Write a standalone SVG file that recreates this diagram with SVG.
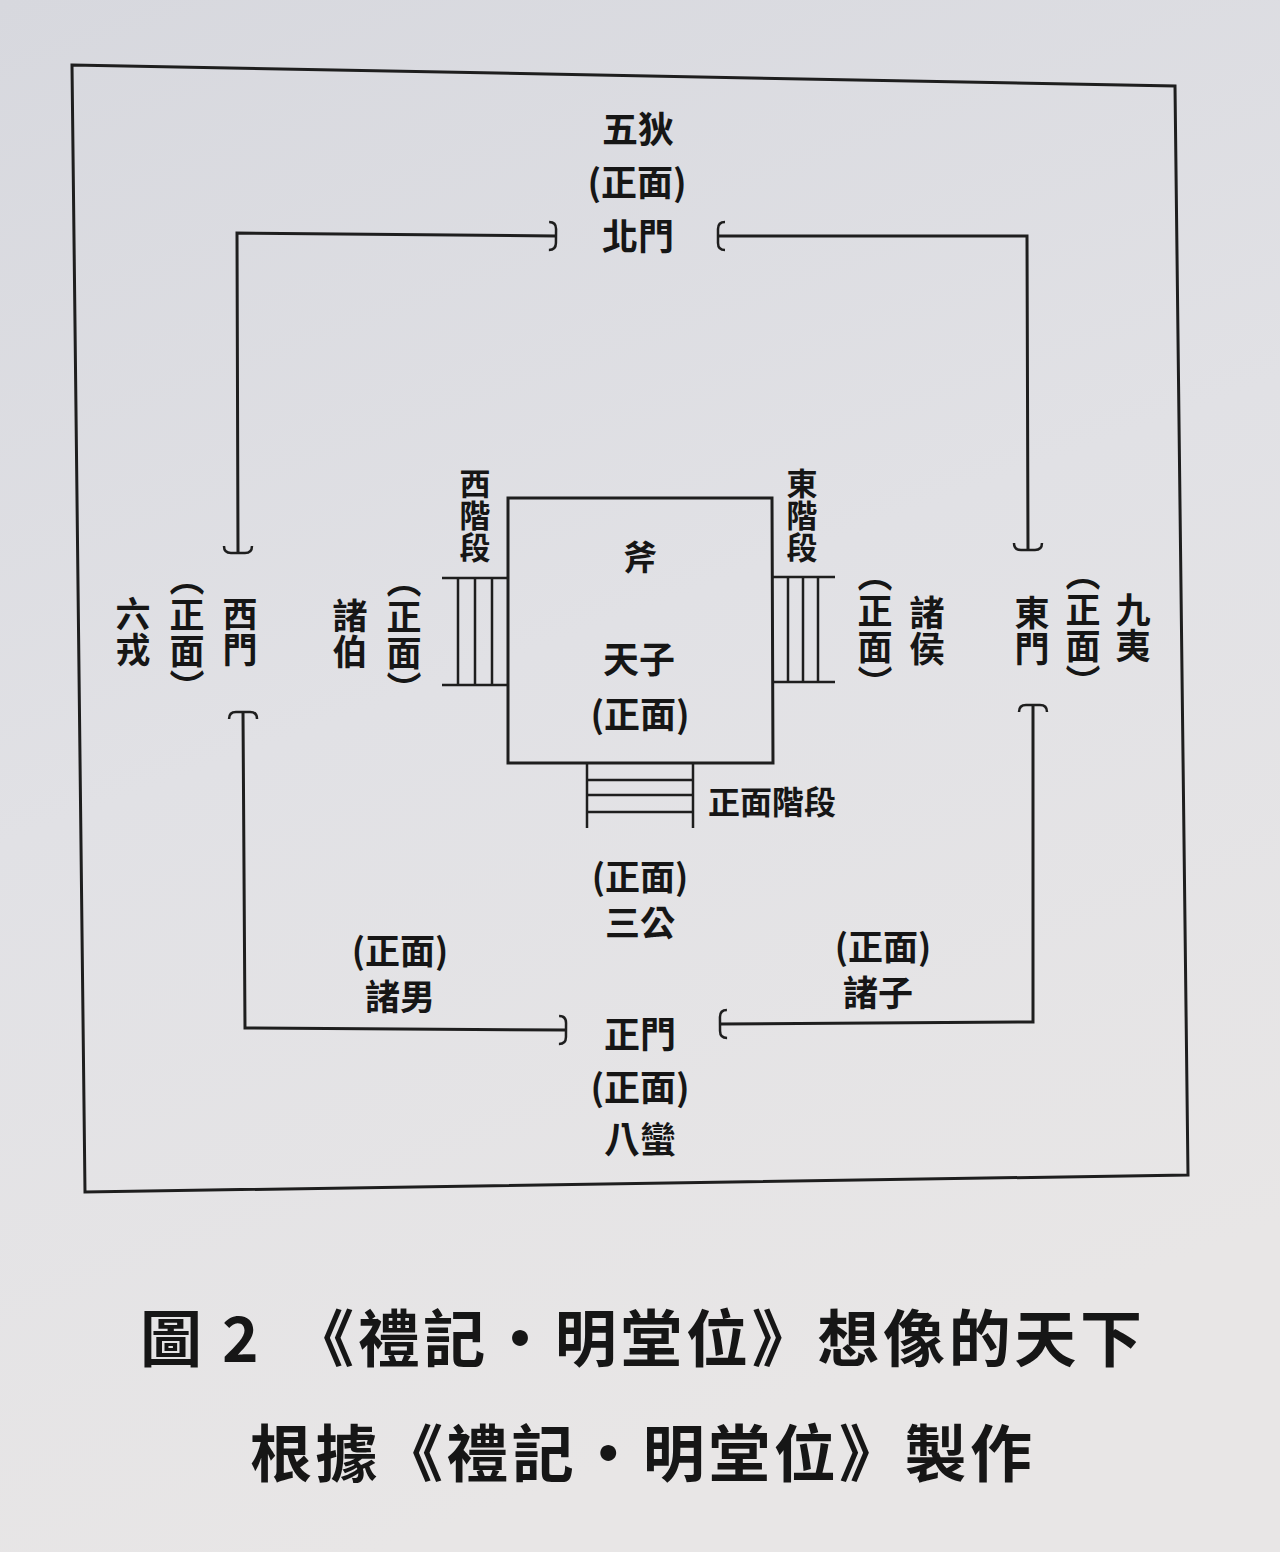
<svg xmlns="http://www.w3.org/2000/svg" width="1280" height="1552" viewBox="0 0 1280 1552">
<defs>
<linearGradient id="bg" x1="0" y1="0" x2="0.3" y2="1">
<stop offset="0" stop-color="#d7d8de"/>
<stop offset="0.5" stop-color="#e1e1e5"/>
<stop offset="1" stop-color="#e8e6e6"/>
</linearGradient>
<marker id="br" viewBox="-10 -16 14 32" refX="0" refY="0" markerWidth="14" markerHeight="32" markerUnits="userSpaceOnUse" orient="auto-start-reverse">
<path d="M -7 -14 Q 0 -14 0 -7 L 0 7 Q 0 14 -7 14" fill="none" stroke="#1e1e1e" stroke-width="2.5"/>
</marker>
<style>
.t{font-family:"Noto Sans CJK TC","Noto Sans CJK JP",sans-serif;font-weight:700;fill:#161616;text-anchor:middle;dominant-baseline:central;font-size:36px}
.v{writing-mode:vertical-rl;font-size:35px;letter-spacing:1px}
.s{writing-mode:vertical-rl;font-size:31px;letter-spacing:1px}
.h32{font-size:32px}
.h34{font-size:34px}
.tight{font-size:35px}
.cap{font-family:"Noto Sans CJK TC","Noto Sans CJK JP",sans-serif;font-weight:700;fill:#161616;font-size:62px;dominant-baseline:central}
.ln{fill:none;stroke:#1e1e1e;stroke-width:3}
.thin{fill:none;stroke:#1e1e1e;stroke-width:2.5}
</style>
</defs>
<rect width="1280" height="1552" fill="url(#bg)"/>
<polygon class="ln" points="72,65 1175,86 1188,1175 85,1192"/>

<g id="connectors">
<path class="ln" d="M 238 553 L 237 233 L 556 236" marker-start="url(#br)" marker-end="url(#br)"/>
<path class="ln" d="M 718 236 L 1027 236 L 1028 550" marker-start="url(#br)" marker-end="url(#br)"/>
<path class="ln" d="M 243 712 L 245 1028 L 566 1030" marker-start="url(#br)" marker-end="url(#br)"/>
<path class="ln" d="M 720 1024 L 1033 1022 L 1033 705" marker-start="url(#br)" marker-end="url(#br)"/>
</g>

<g id="hall">
<polygon class="ln" points="508,498 772,498 773,763 508,763"/>
<text class="t h34" x="640" y="555">斧</text>
<text class="t" x="639" y="657">天子<tspan x="640" dy="55">(正面)</tspan></text>
</g>

<g id="west-stairs">
<line class="thin" x1="442" y1="578" x2="508" y2="578"/>
<line class="thin" x1="442" y1="685" x2="508" y2="685"/>
<line class="thin" x1="458" y1="578" x2="458" y2="685"/>
<line class="thin" x1="475" y1="578" x2="475" y2="685"/>
<line class="thin" x1="492" y1="578" x2="492" y2="685"/>
<text class="t s" x="475" y="516">西階段</text>
</g>

<g id="east-stairs">
<line class="thin" x1="772" y1="577" x2="835" y2="577"/>
<line class="thin" x1="772" y1="682" x2="835" y2="682"/>
<line class="thin" x1="788" y1="577" x2="788" y2="682"/>
<line class="thin" x1="803" y1="577" x2="803" y2="682"/>
<line class="thin" x1="818" y1="577" x2="818" y2="682"/>
<text class="t s" x="802" y="516">東階段</text>
</g>

<g id="south-stairs">
<line class="thin" x1="587" y1="763" x2="587" y2="828"/>
<line class="thin" x1="693" y1="763" x2="693" y2="828"/>
<line class="thin" x1="587" y1="780" x2="693" y2="780"/>
<line class="thin" x1="587" y1="795" x2="693" y2="795"/>
<line class="thin" x1="587" y1="812" x2="693" y2="812"/>
<text class="t h32" x="772" y="800">正面階段</text>
</g>

<g id="north">
<text class="t" x="638" y="127">五狄<tspan x="637" dy="53">(正面)</tspan><tspan x="638" dy="54">北門</tspan></text>
</g>

<g id="west">
<text class="t v" x="133" y="632">六戎</text>
<text class="t v" x="187" y="633">︵正面︶</text>
<text class="t v" x="240" y="632">西門</text>
</g>

<g id="zhubo">
<text class="t v" x="350" y="634">諸伯</text>
<text class="t v" x="404" y="635">︵正面︶</text>
</g>

<g id="zhuhou">
<text class="t v" x="875" y="629">︵正面︶</text>
<text class="t v" x="927" y="631">諸侯</text>
</g>

<g id="east">
<text class="t v" x="1032" y="631">東門</text>
<text class="t v" x="1083" y="628">︵正面︶</text>
<text class="t v" x="1133" y="628">九夷</text>
</g>

<g id="sangong">
<text class="t tight" x="640" y="874">(正面)<tspan x="640" dy="46">三公</tspan></text>
</g>

<g id="zhunan">
<text class="t tight" x="400" y="948">(正面)<tspan x="400" dy="46">諸男</tspan></text>
</g>

<g id="zhuzi">
<text class="t tight" x="883" y="944">(正面)<tspan x="878" dy="46">諸子</tspan></text>
</g>

<g id="south">
<text class="t" x="640" y="1032">正門<tspan x="640" dy="53">(正面)</tspan><tspan x="640" dy="52">八蠻</tspan></text>
</g>

<g id="caption">
<text class="cap" x="140" y="1335">圖</text>
<text class="cap" x="222" y="1335">2</text>
<text class="cap" x="292" y="1335" textLength="850" lengthAdjust="spacing">《禮記・明堂位》想像的天下</text>
<text class="cap" x="250" y="1450" textLength="782" lengthAdjust="spacing">根據《禮記・明堂位》製作</text>
</g>
</svg>
